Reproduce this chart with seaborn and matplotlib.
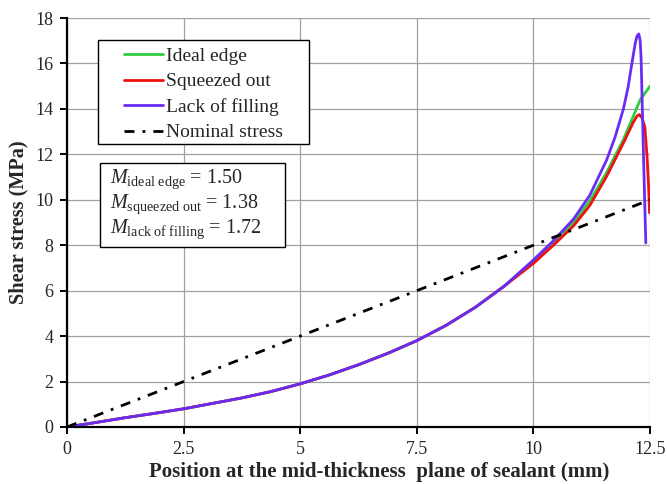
import matplotlib
matplotlib.use("Agg")
import matplotlib.pyplot as plt
from matplotlib.patches import Rectangle
import seaborn as sns
import pandas as pd

# ---------------- data ----------------
x_common = [0, 0.625, 1.25, 1.875, 2.5, 3.125, 3.75, 4.375, 5, 5.625, 6.25, 6.875,
            7.5, 8.125, 8.75, 9.375]
y_common = [0, 0.20, 0.41, 0.60, 0.80, 1.04, 1.28, 1.56, 1.90, 2.29, 2.74, 3.24,
            3.80, 4.47, 5.26, 6.20]

ideal_x = x_common + [10, 10.43, 10.86, 11.21, 11.57, 11.93, 12.14, 12.29, 12.5]
ideal_y = y_common + [7.30, 8.1, 9.0, 9.95, 11.2, 12.65, 13.67, 14.4, 15.0]

squeezed_x = x_common + [10, 10.43, 10.86, 11.21, 11.57, 11.93, 12.14, 12.22, 12.27,
                         12.33, 12.39, 12.44, 12.47, 12.49]
squeezed_y = y_common + [7.20, 8.0, 8.85, 9.75, 11.03, 12.5, 13.4, 13.68, 13.75,
                         13.6, 13.2, 11.8, 10.6, 9.43]

lack_x = x_common + [10, 10.43, 10.86, 11.21, 11.57, 11.75, 11.93, 12.03, 12.1, 12.18,
                     12.22, 12.26, 12.29, 12.31, 12.35, 12.41]
lack_y = y_common + [7.35, 8.2, 9.15, 10.2, 11.75, 12.75, 14.0, 14.95, 15.85, 16.85,
                     17.2, 17.3, 17.0, 16.2, 12.8, 8.1]

nominal_x = [0, 12.5]
nominal_y = [0, 10]

series_names = ["Ideal edge", "Squeezed out", "Lack of filling"]
series_colors = ["#2ecc40", "#ee1111", "#6a2cf5"]
xticks = [0, 2.5, 5, 7.5, 10, 12.5]
xtick_labels = ["0", "2.5", "5", "7.5", "10", "12.5"]
yticks = list(range(0, 19, 2))
m_labels = ["ideal\\ edge", "squeezed\\ out", "lack\\ of\\ filling"]
m_values = ["1.50", "1.38", "1.72"]

rows = []
for name, xs, ys in zip(series_names, [ideal_x, squeezed_x, lack_x], [ideal_y, squeezed_y, lack_y]):
    for i, (a, b) in enumerate(zip(xs, ys)):
        rows.append({"series": name, "order": i, "x": a, "y": b})
df = pd.DataFrame(rows)
df_nom = pd.DataFrame({"x": nominal_x, "y": nominal_y})

# ---------------- style ----------------
sns.set_theme(style="white")
plt.rcParams["font.family"] = ["Liberation Serif", "DejaVu Serif"]
plt.rcParams["mathtext.fontset"] = "custom"
plt.rcParams["mathtext.rm"] = "Liberation Serif"
plt.rcParams["mathtext.it"] = "Liberation Serif:italic"

fig = plt.figure(figsize=(6.67, 4.84), dpi=100)
ax = fig.add_axes([0.1005, 0.1178, 0.874, 0.845])

for name, color in zip(series_names, series_colors):
    sub = df[df["series"] == name]
    sns.lineplot(data=sub, x="x", y="y", sort=False, estimator=None, color=color,
                 lw=2.0, ax=ax, label=name)
sns.lineplot(data=df_nom, x="x", y="y", sort=False, estimator=None, color="black",
             lw=2.0, ax=ax, label="Nominal stress")
ax.lines[-1].set_dashes([3.6, 2.9, 1.0, 2.9])
for ln in ax.lines:
    ln.set_solid_joinstyle("round")

ax.set_xlim(0, 12.5)
ax.set_ylim(0, 18)
ax.set_xticks(xticks)
ax.set_xticklabels(xtick_labels)
ax.set_yticks(yticks)
ax.grid(True, color="#a0a0a0", lw=0.9)
for s in ["top", "right"]:
    ax.spines[s].set_visible(False)
for s in ["left", "bottom"]:
    ax.spines[s].set_color("black")
    ax.spines[s].set_linewidth(1.6)
ax.tick_params(axis="both", direction="out", length=5, width=1.4, color="black",
               labelsize=13, pad=5, left=True, bottom=True)

ax.set_xlabel("Position at the mid-thickness  plane of sealant (mm)", fontsize=15,
              fontweight="bold")
ax.set_ylabel("Shear stress (MPa)", fontsize=14.6, fontweight="bold")
ax.xaxis.set_label_coords(0.535, -0.085)
ax.yaxis.set_label_coords(-0.066, 0.5)

# legend (frame drawn by hand)
ax.add_patch(Rectangle((0.0532, 0.692), 0.3618, 0.254, transform=ax.transAxes,
                       fc="white", ec="black", lw=1.0, zorder=4))
leg = ax.legend(loc="upper left", bbox_to_anchor=(0.097, 0.928), borderaxespad=0,
                frameon=False, fontsize=14, handlelength=2.05, handletextpad=0.15,
                borderpad=0, labelspacing=0.40)
leg.set_zorder(5)

# modulus box
ax.add_patch(Rectangle((0.0566, 0.440), 0.3174, 0.2055, transform=ax.transAxes,
                       fc="white", ec="black", lw=1.0, zorder=4))
txt = "\n".join(f"$M_{{\\mathrm{{{lab}}}}}$ = {val}" for lab, val in zip(m_labels, m_values))
ax.text(0.074, 0.634, txt, transform=ax.transAxes, fontsize=14.5, va="top", ha="left",
        linespacing=1.1, zorder=5)

fig.savefig("out.png", dpi=100)
